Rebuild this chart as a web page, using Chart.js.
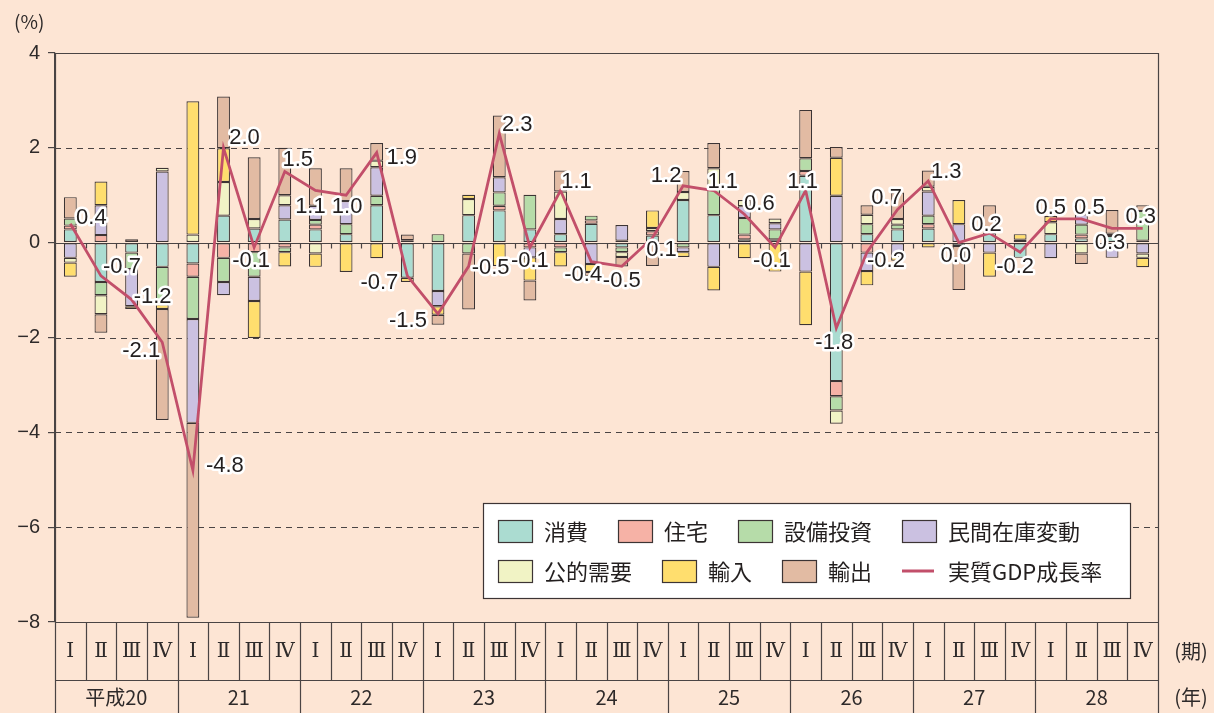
<!DOCTYPE html>
<html>
<head>
<meta charset="utf-8">
<script src="https://cdn.jsdelivr.net/npm/chart.js@4.4.1/dist/chart.umd.min.js"></script>
<style>
  html, body { margin: 0; padding: 0; background: #fde5d4; }
  #wrap { width: 1214px; height: 713px; }
</style>
</head>
<body>
<div id="wrap"><canvas id="gdpchart" width="1214" height="713"></canvas></div>
<script>
// categories
const years = ['平成20', '21', '22', '23', '24', '25', '26', '27', '28'];
const quarterNames = ['Ⅰ', 'Ⅱ', 'Ⅲ', 'Ⅳ'];
const yTicks = [4, 2, 0, -2, -4, -6, -8];

// contributions (% points), 平成20 I .. 平成28 IV  (null = no segment)
const shohi   = [0.28,-0.83,-0.21,-0.51,-0.44,0.57,0.30,0.49, 0.28,0.18,0.79,-0.74,-1.02,0.58,0.68,0.28, 0.18,0.40,-0.10,0.15,0.90,0.58,0.07,0.07, 1.41,-2.92,0.18,0.28,0.30,-0.07,0.21,-0.32, 0.18,0.09,0.14,0.04];
const jutaku  = [0.08,0.16,0.07,null,-0.28,-0.32,-0.20,-0.10, 0.10,null,null,0.05,null,null,0.10,-0.10, -0.10,0.07,0.04,0.09,null,null,0.10,null, 0.10,-0.32,-0.21,null,0.09,null,null,null, null,0.08,0.05,null];
const setsubi = [0.15,-0.28,-0.35,-0.79,-0.89,-0.51,-0.52,-0.10, 0.10,0.21,0.20,null,0.18,-0.23,0.28,0.73, -0.10,0.10,-0.10,null,-0.10,0.61,0.35,0.21, 0.27,-0.30,0.21,0.10,0.18,null,null,null, null,0.21,null,0.63];
const zaiko   = [-0.32,0.63,-0.78,1.50,-2.19,-0.28,-0.51,0.30, 0.30,0.49,0.60,null,-0.32,null,0.32,-0.21, 0.32,-0.45,0.33,null,-0.10,-0.51,0.25,0.13, -0.61,0.99,-0.39,-0.28,0.51,0.39,-0.21,null, -0.33,0.22,-0.32,-0.23];
const koteki  = [-0.10,-0.40,null,0.08,0.17,0.71,0.20,0.21, -0.23,null,0.14,null,null,0.34,null,null, 0.58,null,-0.10,0.07,0.17,0.38,0.13,0.10, null,-0.28,0.20,0.12,0.10,null,null,0.06, 0.25,-0.23,null,-0.09];
const yunyu   = [-0.30,0.50,-0.06,-0.10,2.81,0.71,-0.78,-0.30, -0.28,-0.62,-0.33,-0.09,-0.18,0.09,-0.49,-0.49, -0.30,-0.17,null,0.37,-0.10,-0.50,-0.33,-0.61, -1.13,0.80,-0.30,-0.10,-0.10,0.51,-0.51,0.12, 0.13,0.08,null,-0.20];
const yushutsu= [0.45,-0.39,null,-2.34,-4.11,1.09,1.30,1.00, 0.79,0.69,0.37,0.12,-0.21,-1.18,1.30,-0.42, 0.44,-0.08,-0.20,-0.49,0.44,0.53,null,null, 1.02,0.23,0.20,0.56,0.34,-0.93,0.58,null, null,-0.22,0.50,0.12];
const gdp     = [0.4,-0.7,-1.2,-2.1,-4.8,2.0,-0.1,1.5, 1.1,1.0,1.9,-0.7,-1.5,-0.5,2.3,-0.1, 1.1,-0.4,-0.5,0.1,1.2,1.1,0.6,-0.1, 1.1,-1.8,-0.2,0.7,1.3,0.0,0.2,-0.2, 0.5,0.5,0.3,0.3];

// where each growth-rate label sits relative to its point
const labelNudge = [
  [21,-6],[21,-9],[21,-3],[-21,9],[32,-4],[21,-10],[-3,14],[13,-12],
  [-5,16],[1,12],[25,5],[-28,7],[-30,7],[22,2],[18,-9],[0,14],
  [16,-9],[-8,13],[0,15],[9,12],[-17,-10],[9,-9],[15,-10],[-3,14],
  [-3,-9],[-2,15],[19,9],[-11,-12],[18,-9],[-3,13],[-3,-8],[-5,15],
  [0,-11],[8,-11],[-2,14],[-2,-12]
];

const labels = years.flatMap(y => quarterNames.map(q => y + ' ' + q));

const INK = '#3c3434';
const JP = '"Noto Sans CJK JP", "Noto Sans", sans-serif';
const NUM = '"Liberation Sans", Arial, sans-serif';
const ROMAN = '"DejaVu Serif", "Liberation Serif", serif';

function bar(label, data, color) {
  return {
    type: 'bar', label: label, data: data,
    backgroundColor: color, borderColor: INK, borderWidth: 1.2,
    borderSkipped: false, barPercentage: 1, categoryPercentage: 0.42,
    stack: 'contrib', order: 1
  };
}

function seg(ctx, x1, y1, x2, y2) {
  ctx.beginPath(); ctx.moveTo(x1, y1); ctx.lineTo(x2, y2); ctx.stroke();
}

// grid lines, frame and the little ticks on the zero line
const gridPlugin = {
  id: 'grid',
  beforeDatasetsDraw(chart) {
    const { ctx, chartArea: a, scales: { y } } = chart;
    const w = (a.right - a.left) / labels.length;
    ctx.save();
    ctx.strokeStyle = '#4a4444';
    ctx.lineWidth = 1.2;
    ctx.setLineDash([6, 5]);
    yTicks.filter(v => v !== 0 && v !== 4 && v !== -8).forEach(v => {
      const py = Math.round(y.getPixelForValue(v)) + 0.5;
      seg(ctx, a.left, py, a.right, py);
    });
    ctx.setLineDash([]);
    const z = Math.round(y.getPixelForValue(0)) + 0.5;
    seg(ctx, a.left, z, a.right, z);
    for (let i = 1; i < labels.length; i++) {
      const px = Math.round(a.left + i * w) + 0.5;
      seg(ctx, px, z, px, z + 5);
    }
    const top = Math.round(a.top) + 0.5;
    seg(ctx, a.left, top, a.right, top);
    ctx.restore();
  }
};

// growth-rate value labels with a white halo
const valuePlugin = {
  id: 'values',
  afterDatasetsDraw(chart) {
    const { ctx } = chart;
    const idx = chart.data.datasets.findIndex(d => d.type === 'line');
    const meta = chart.getDatasetMeta(idx);
    ctx.save();
    ctx.font = '22px ' + NUM;
    ctx.textAlign = 'center';
    ctx.textBaseline = 'middle';
    ctx.lineJoin = 'round';
    meta.data.forEach((pt, i) => {
      const txt = gdp[i].toFixed(1);
      const tx = pt.x + labelNudge[i][0], ty = pt.y + labelNudge[i][1];
      ctx.strokeStyle = '#ffffff';
      ctx.lineWidth = 5;
      ctx.strokeText(txt, tx, ty);
      ctx.fillStyle = '#231f1f';
      ctx.fillText(txt, tx, ty);
    });
    ctx.restore();
  }
};

// period table under the plot, legend box and unit text
const tablePlugin = {
  id: 'table',
  afterDraw(chart) {
    const { ctx, chartArea: a } = chart;
    const H = chart.height;
    const n = labels.length;
    const w = (a.right - a.left) / n;
    const rowY = 680;
    ctx.save();
    ctx.strokeStyle = '#4a4444';
    ctx.lineWidth = 1.2;
    const b = Math.round(a.bottom) + 0.5;
    seg(ctx, a.left, b, a.right, b);
    seg(ctx, a.left, rowY + 0.5, a.right, rowY + 0.5);
    seg(ctx, Math.round(a.left) + 0.5, a.top, Math.round(a.left) + 0.5, H);
    seg(ctx, Math.round(a.right) + 0.5, a.top, Math.round(a.right) + 0.5, H);
    for (let i = 1; i < n; i++) {
      const px = Math.round(a.left + i * w) + 0.5;
      seg(ctx, px, b, px, i % 4 === 0 ? H : rowY);
    }
    ctx.fillStyle = '#2e2a2a';
    ctx.textAlign = 'center';
    ctx.textBaseline = 'middle';
    ctx.font = '20px ' + ROMAN;
    for (let i = 0; i < n; i++) {
      ctx.fillText(quarterNames[i % 4], a.left + (i + 0.5) * w, (b + rowY) / 2 + 1);
    }
    ctx.font = '20px ' + JP;
    years.forEach((yr, k) => {
      ctx.fillText(yr, a.left + (k * 4 + 2) * w, 697);
    });
    ctx.fillText('(期)', 1191, (b + rowY) / 2);
    ctx.fillText('(年)', 1191, 697);
    ctx.textAlign = 'left';
    ctx.font = '19px ' + JP;
    ctx.fillText('(%)', 14, 22);

    // legend
    const box = { x: 483, y: 503, w: 647, h: 95 };
    ctx.fillStyle = '#ffffff';
    ctx.fillRect(box.x, box.y, box.w, box.h);
    ctx.strokeStyle = '#3c3434';
    ctx.strokeRect(box.x + 0.5, box.y + 0.5, box.w, box.h);
    ctx.font = '22px ' + JP;
    ctx.textBaseline = 'middle';
    const sets = chart.data.datasets;
    const rows = [sets.slice(0, 4), sets.slice(4)];
    rows.forEach((row, r) => {
      let px = box.x + 15;
      const cy = box.y + 28 + r * 40;
      row.forEach(ds => {
        if (ds.type === 'line') {
          ctx.strokeStyle = ds.borderColor;
          ctx.lineWidth = 3;
          seg(ctx, px, cy, px + 32, cy);
        } else {
          ctx.fillStyle = ds.backgroundColor;
          ctx.fillRect(px, cy - 11, 34, 22);
          ctx.strokeStyle = INK;
          ctx.lineWidth = 1.2;
          ctx.strokeRect(px + 0.5, cy - 11 + 0.5, 34, 22);
        }
        ctx.fillStyle = '#231f1f';
        ctx.fillText(ds.label, px + 46, cy + 1);
        px += 46 + ctx.measureText(ds.label).width + 30;
      });
    });
    ctx.restore();
  }
};

new Chart(document.getElementById('gdpchart'), {
  data: {
    labels: labels,
    datasets: [
      bar('消費', shohi, '#abdcd1'),
      bar('住宅', jutaku, '#f6b2a6'),
      bar('設備投資', setsubi, '#b6dca9'),
      bar('民間在庫変動', zaiko, '#cbc1e1'),
      bar('公的需要', koteki, '#f1f3c5'),
      bar('輸入', yunyu, '#ffde6e'),
      bar('輸出', yushutsu, '#e2bba3'),
      {
        type: 'line', label: '実質GDP成長率', data: gdp,
        borderColor: '#c24f6a', borderWidth: 2.8, pointRadius: 0,
        tension: 0, fill: false, stack: 'gdp', order: 0
      }
    ]
  },
  options: {
    responsive: false,
    animation: false,
    devicePixelRatio: 1,
    layout: { padding: { left: 0, top: 53, right: 56, bottom: 91 } },
    plugins: { legend: { display: false }, tooltip: { enabled: false } },
    scales: {
      x: { stacked: true, display: false },
      y: {
        stacked: true, min: -8, max: 4,
        afterFit: s => { s.width = 55; },
        afterBuildTicks: s => { s.ticks = yTicks.map(v => ({ value: v })); },
        ticks: {
          padding: 8, color: '#2e2a2a',
          font: { family: NUM, size: 20 },
          callback: v => String(v).replace('-', '−')
        },
        grid: { drawOnChartArea: false, drawTicks: true, tickLength: 7, color: '#4a4444', lineWidth: 1.2 },
        border: { display: true, color: '#4a4444', width: 1.2 }
      }
    }
  },
  plugins: [gridPlugin, valuePlugin, tablePlugin]
});
</script>
</body>
</html>
